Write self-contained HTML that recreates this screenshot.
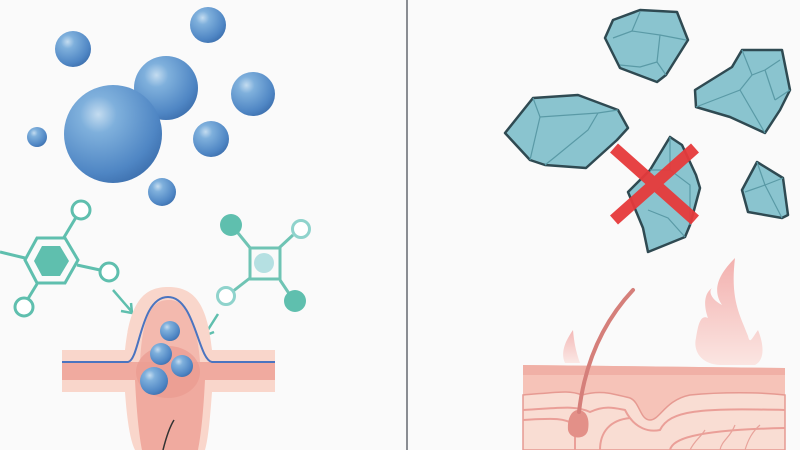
<!DOCTYPE html>
<html><head><meta charset="utf-8"><style>html,body{margin:0;padding:0;background:#fafafa;}svg{display:block}</style></head>
<body>
<svg width="800" height="450" viewBox="0 0 800 450" xmlns="http://www.w3.org/2000/svg">
<defs>
<radialGradient id="sph" cx="0.35" cy="0.3" r="0.75">
<stop offset="0" stop-color="#c4dcf0"/><stop offset="0.25" stop-color="#7fb0dc"/><stop offset="0.8" stop-color="#4f86c4"/><stop offset="1" stop-color="#3f72b0"/></radialGradient>
<linearGradient id="flame" x1="0" y1="0" x2="0" y2="1"><stop offset="0" stop-color="#f2a8a6"/><stop offset="1" stop-color="#fbe3df"/></linearGradient>
</defs>
<rect width="800" height="450" fill="#fafafa"/>
<line x1="407" y1="0" x2="407" y2="450" stroke="#8a8d92" stroke-width="2"/>
<!-- spheres -->
<g fill="url(#sph)">
<circle cx="73" cy="49" r="18"/><circle cx="208" cy="25" r="18"/><circle cx="166" cy="88" r="32"/>
<circle cx="113" cy="134" r="49"/><circle cx="253" cy="94" r="22"/><circle cx="211" cy="139" r="18"/>
<circle cx="37" cy="137" r="10"/><circle cx="162" cy="192" r="14"/>
</g>
<!-- hexagon molecule -->
<g stroke="#5fbfae" stroke-width="3" fill="none">
<line x1="25" y1="258" x2="0" y2="252"/><line x1="63" y1="239" x2="78" y2="214"/>
<line x1="77" y1="265" x2="100" y2="270"/><line x1="37" y1="284" x2="26" y2="302"/>
<polygon points="37,238 65,238 78,260 65,283 37,283 25,260"/>
<circle cx="81" cy="210" r="9" fill="#fff"/><circle cx="109" cy="272" r="9" fill="#fff"/>
<circle cx="24" cy="307" r="9" fill="#fff"/>
</g>
<polygon points="42,246 60,246 69,261 60,276 42,276 34,261" fill="#5fbfae"/>
<!-- square molecule -->
<g stroke="#6fc4b4" stroke-width="3" fill="none">
<line x1="238" y1="233" x2="251" y2="249"/><line x1="279" y1="248" x2="293" y2="235"/>
<line x1="250" y1="278" x2="232" y2="292"/><line x1="280" y1="280" x2="290" y2="295"/>
<rect x="250" y="248" width="30" height="31"/>
<circle cx="301" cy="229" r="8.5" fill="#fff" stroke="#8fd3cc"/><circle cx="226" cy="296" r="8.5" fill="#fff" stroke="#8fd3cc"/>
</g>
<circle cx="231" cy="225" r="11" fill="#5fbfae"/><circle cx="295" cy="301" r="11" fill="#5fbfae"/>
<circle cx="264" cy="263" r="10" fill="#b5e0e2"/>
<!-- arrows -->
<g stroke="#5fbfae" stroke-width="2.5" fill="none">
<line x1="113" y1="290" x2="132" y2="312"/><polyline points="121,311 132,313 131,303"/>
<line x1="218" y1="314" x2="204" y2="336"/><polyline points="202,325 204,336 214,332"/>
</g>
<!-- left skin -->
<path d="M62,350 H125 C130,300 145,287 168,287 C192,287 207,300 212,350 H275 V392 H212 C210,420 208,440 205,450 H135 C130,440 127,420 125,392 H62 Z" fill="#f9d6cb"/>
<path d="M62,362 H275 V380 H205 C203,420 200,440 198,450 H142 C140,440 137,420 135,380 H62 Z" fill="#f0aa9f"/>
<path d="M140,362 C143,300 160,300 170,300 C185,300 197,320 200,362 Z" fill="#f3b9ae"/>
<ellipse cx="168" cy="372" rx="32" ry="26" fill="#e99a90" opacity="0.7"/>
<path d="M62,362 H128 C140,360 140,297 168,297 C195,297 198,360 212,362 H275" fill="none" stroke="#4a74c0" stroke-width="2"/>
<path d="M163,450 C165,235 170,225 174,420" fill="none"/>
<path d="M163,450 C166,438 169,428 174,420" stroke="#333" stroke-width="1.5" fill="none"/>
<g fill="url(#sph)"><circle cx="170" cy="331" r="10"/><circle cx="161" cy="354" r="11"/><circle cx="182" cy="366" r="11"/><circle cx="154" cy="381" r="14"/></g>
<!-- crystals -->
<g stroke="#2f4a52" stroke-width="2.5" stroke-linejoin="round" fill="#8ac4cf">
<polygon points="605,38 613,20 640,10 677,12 688,40 666,75 657,82 620,68"/>
<polygon points="695,90 732,67 742,50 782,50 790,90 780,110 765,133 730,117 696,107"/>
<polygon points="505,133 533,98 578,95 618,110 628,128 617,140 586,168 545,165 530,160"/>
<polygon points="628,192 650,170 670,137 682,145 696,175 700,188 690,225 685,237 648,252 643,228"/>
<polygon points="742,190 757,162 783,178 788,215 782,218 748,212"/>
</g>
<g stroke="#5a9aa6" stroke-width="1.2" fill="none">
<polyline points="613,38 632,31 660,35 657,62 640,67 620,65"/><line x1="632" y1="31" x2="640" y2="12"/><line x1="660" y1="35" x2="686" y2="40"/><line x1="657" y1="62" x2="666" y2="75"/>
<polyline points="742,50 752,75 765,70 780,60"/><polyline points="752,75 740,90 696,107"/><line x1="740" y1="90" x2="765" y2="133"/><line x1="765" y1="70" x2="775" y2="100"/><line x1="775" y1="100" x2="790" y2="90"/>
<polyline points="533,98 540,117 598,113 618,110"/><line x1="540" y1="117" x2="530" y2="160"/><polyline points="598,113 588,130 555,157 545,165"/>
<polyline points="670,137 670,170 690,185 690,225"/><polyline points="650,170 670,170"/><polyline points="648,210 668,218 685,237"/>
<polyline points="757,162 765,185 783,178"/><polyline points="765,185 745,192"/><line x1="765" y1="185" x2="782" y2="218"/>
</g>
<!-- X -->
<g stroke="#e63a3b" stroke-width="12" opacity="0.95">
<line x1="614" y1="148" x2="695" y2="220"/><line x1="695" y1="148" x2="614" y2="220"/>
</g>
<!-- flames -->
<path d="M735,258 C718,275 712,290 722,305 C712,300 708,292 712,288 C702,295 705,310 708,318 C700,314 698,326 696,338 C693,350 700,364 720,365 H755 C765,360 764,345 758,330 C752,338 750,345 748,336 C740,315 730,300 735,258 Z" fill="url(#flame)" opacity="0.9"/>
<path d="M573,330 C566,340 560,352 565,363 H580 C576,352 574,342 573,330 Z" fill="url(#flame)" opacity="0.8"/>
<!-- right skin -->
<path d="M523,365 L785,368 V450 H523 Z" fill="#f6c3b8"/>
<path d="M523,365 L785,368 V375 H523 Z" fill="#f0b0a6"/>
<path d="M523,395 C560,392 570,390 582,395 C600,390 610,393 630,398 C640,402 640,420 650,420 C660,420 665,400 690,395 C720,392 760,392 785,395 V450 H523 Z" fill="#f9ddd3" stroke="#e69a92" stroke-width="1.5"/>
<path d="M523,410 C560,408 575,405 590,412 C605,405 615,408 625,410 C635,430 650,432 660,430 C670,410 700,408 785,410" fill="none" stroke="#ea9f98" stroke-width="2"/>
<path d="M523,420 C555,418 565,418 575,425 V450 M600,450 C600,432 610,420 630,418 M670,450 C672,440 690,430 785,428" fill="none" stroke="#ea9f98" stroke-width="2"/>
<g stroke="#e8a39b" stroke-width="1.2" fill="none">
<path d="M720,450 C722,440 730,438 735,425 M745,450 C748,440 752,432 760,425 M690,450 C695,440 700,438 705,430"/>
</g>
<path d="M568,430 C567,418 572,410 578,410 C586,410 590,418 588,430 C586,440 570,440 568,430 Z" fill="#e39088"/>
<path d="M633,290 C605,320 585,360 579,412" fill="none" stroke="#d57f7a" stroke-width="4" stroke-linecap="round"/>
</svg>
</body></html>
